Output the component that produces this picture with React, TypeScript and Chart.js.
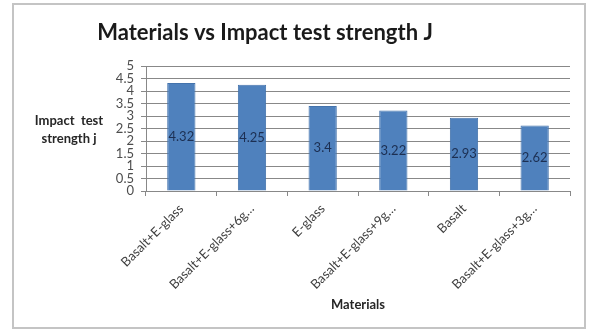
import React, { useEffect, useRef } from "react";
import { Chart, registerables } from "chart.js";

Chart.register(...registerables);

const categories = [
  "Basalt+E-glass",
  "Basalt+E-glass+6g…",
  "E-glass",
  "Basalt+E-glass+9g…",
  "Basalt",
  "Basalt+E-glass+3g…",
];
const strengthValues = [4.32, 4.25, 3.4, 3.22, 2.93, 2.62];
const yMin = 0;
const yMax = 5;
const yStep = 0.5;
const chartTitle = "Materials vs Impact test strength J";
const yTitleLines = ["Impact  test", "strength j"];
const xTitle = "Materials";

const FONT = "Lato, 'Open Sans', sans-serif";

const framePlugin = {
  id: "frame",
  beforeDraw(chart: any) {
    const { ctx, width, height } = chart;
    ctx.save();
    ctx.fillStyle = "#ffffff";
    ctx.fillRect(0, 0, width, height);
    ctx.strokeStyle = "#c4c4c4";
    ctx.lineWidth = 2;
    ctx.strokeRect(13, 4, 572, 324);
    ctx.restore();
  },
};

const textPlugin = {
  id: "texts",
  afterDraw(chart: any) {
    const { ctx, chartArea } = chart;
    ctx.save();
    ctx.fillStyle = "#1a1a1a";
    ctx.font = `bold 22px ${FONT}`;
    ctx.textAlign = "center";
    ctx.textBaseline = "middle";
    ctx.fillText(chartTitle, 265, 33);
    ctx.font = `bold 13px ${FONT}`;
    ctx.fillStyle = "#262626";
    const midY = (chartArea.top + chartArea.bottom) / 2;
    yTitleLines.forEach((line, i) => {
      ctx.fillText(line, 69, midY - 8 + i * 18);
    });
    ctx.restore();
  },
};

const labelPlugin = {
  id: "barLabels",
  afterDatasetsDraw(chart: any) {
    const { ctx } = chart;
    const meta = chart.getDatasetMeta(0);
    ctx.save();
    ctx.font = `13px ${FONT}`;
    ctx.fillStyle = "#1c2f52";
    ctx.textAlign = "center";
    ctx.textBaseline = "middle";
    meta.data.forEach((bar: any, i: number) => {
      const { x, y, base } = bar.getProps(["x", "y", "base"], true);
      ctx.fillText(String(strengthValues[i]), x, (y + base) / 2);
    });
    ctx.restore();
  },
};

export default function App() {
  const canvasRef = useRef<HTMLCanvasElement | null>(null);

  useEffect(() => {
    document.body.style.margin = "0";
    const canvas = canvasRef.current;
    if (!canvas) return;
    const chart = new Chart(canvas, {
      type: "bar",
      data: {
        labels: categories,
        datasets: [
          {
            data: strengthValues,
            backgroundColor: "#4f81bd",
            borderColor: "#4473ac",
            borderWidth: 1,
            barPercentage: 0.4,
            categoryPercentage: 1,
          },
        ],
      },
      options: {
        animation: false,
        responsive: false,
        devicePixelRatio: 1,
        layout: { padding: { left: 110, right: 20, top: 66, bottom: 12 } },
        plugins: {
          legend: { display: false },
          title: { display: false },
          tooltip: { enabled: false },
        },
        scales: {
          x: {
            afterFit(scale: any) {
              scale.height = 126;
            },
            grid: {
              display: true,
              drawOnChartArea: false,
              offset: true,
              tickLength: 5,
              color: "#888888",
            },
            border: { display: true, color: "#888888" },
            ticks: {
              maxRotation: 45,
              minRotation: 45,
              autoSkip: false,
              color: "#404040",
              font: { family: FONT, size: 13 },
              padding: 5,
            },
            title: {
              display: true,
              text: xTitle,
              color: "#262626",
              font: { family: FONT, size: 13, weight: "bold" },
              padding: { top: 4, bottom: 4 },
            },
          },
          y: {
            min: yMin,
            max: yMax,
            afterFit(scale: any) {
              scale.width = 36;
            },
            grid: {
              color: "#888888",
              tickLength: 5,
            },
            border: { display: true, color: "#888888" },
            ticks: {
              stepSize: yStep,
              autoSkip: false,
              color: "#4d4d4d",
              font: { family: FONT, size: 13 },
              padding: 7,
              callback: (v: any) => String(Number(v)),
            },
          },
        },
      },
      plugins: [framePlugin, labelPlugin, textPlugin],
    });
    return () => chart.destroy();
  }, []);

  return (
    <div style={{ width: 590, height: 329 }}>
      <canvas ref={canvasRef} width={590} height={329} style={{ width: 590, height: 329, display: "block" }} />
    </div>
  );
}
